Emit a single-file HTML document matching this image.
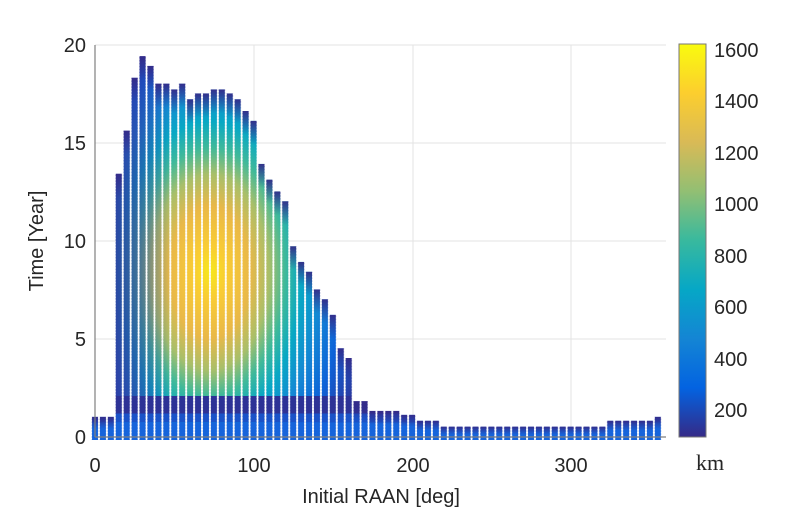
<!DOCTYPE html>
<html><head><meta charset="utf-8"><style>
html,body{margin:0;padding:0;background:#fff;width:809px;height:518px;overflow:hidden}
svg text{font-family:"Liberation Sans",Arial,sans-serif;fill:#262626}
</style></head><body>
<svg width="809" height="518" xmlns="http://www.w3.org/2000/svg">
<defs>
<linearGradient id="pg" x1="0" y1="1" x2="0" y2="0">
<stop offset="0" stop-color="#352a87"/><stop offset="0.125" stop-color="#0363e1"/>
<stop offset="0.25" stop-color="#1485d4"/><stop offset="0.375" stop-color="#06a7c6"/>
<stop offset="0.5" stop-color="#38b99e"/><stop offset="0.625" stop-color="#92bf73"/>
<stop offset="0.75" stop-color="#d9ba56"/><stop offset="0.875" stop-color="#fcce2e"/>
<stop offset="1" stop-color="#f9fb0e"/></linearGradient>
<radialGradient id="blob">
<stop offset="0" stop-color="#f6e81c"/>
<stop offset="0.1" stop-color="#f9cc34"/>
<stop offset="0.25" stop-color="#e9b848"/>
<stop offset="0.37" stop-color="#a8bf6a"/>
<stop offset="0.47" stop-color="#3fb99a"/>
<stop offset="0.57" stop-color="#08a8c4"/>
<stop offset="0.69" stop-color="#1488d4"/>
<stop offset="0.83" stop-color="#0d62d8"/>
<stop offset="1" stop-color="#2a3aa0"/>
</radialGradient>
<linearGradient id="lf" x1="0" y1="0" x2="1" y2="0">
<stop offset="0" stop-color="#33309a" stop-opacity="0.85"/>
<stop offset="0.5" stop-color="#33309a" stop-opacity="0.5"/>
<stop offset="1" stop-color="#33309a" stop-opacity="0"/>
</linearGradient>
<linearGradient id="td" x1="0" y1="0" x2="0" y2="1">
<stop offset="0" stop-color="#352a87" stop-opacity="0.95"/>
<stop offset="0.35" stop-color="#352a87" stop-opacity="0.6"/>
<stop offset="1" stop-color="#352a87" stop-opacity="0"/>
</linearGradient>
<pattern id="dp" patternUnits="userSpaceOnUse" x="91.036" y="435.53" width="7.9275" height="2.94">
<circle cx="3.964" cy="1.47" r="3.2" fill="#fff"/>
<circle cx="3.964" cy="-1.47" r="3.2" fill="#fff"/>
<circle cx="3.964" cy="4.41" r="3.2" fill="#fff"/>
</pattern>
<mask id="m" maskUnits="userSpaceOnUse" x="0" y="0" width="809" height="518">
<g fill="url(#dp)">
<rect x="91" y="416.8" width="24" height="23.2"/>
<rect x="114.8" y="173.7" width="8" height="266.3"/>
<rect x="122.7" y="130.6" width="8" height="309.4"/>
<rect x="130.6" y="77.7" width="8" height="362.3"/>
<rect x="138.6" y="56.1" width="8" height="383.9"/>
<rect x="146.5" y="65.9" width="8" height="374.1"/>
<rect x="154.4" y="83.6" width="16" height="356.4"/>
<rect x="170.3" y="89.4" width="8" height="350.6"/>
<rect x="178.2" y="83.6" width="8" height="356.4"/>
<rect x="186.1" y="99.2" width="8" height="340.8"/>
<rect x="194.1" y="93.4" width="16" height="346.6"/>
<rect x="209.9" y="89.4" width="16" height="350.6"/>
<rect x="225.8" y="93.4" width="8" height="346.6"/>
<rect x="233.7" y="99.2" width="8" height="340.8"/>
<rect x="241.6" y="111" width="8" height="329"/>
<rect x="249.6" y="120.8" width="8" height="319.2"/>
<rect x="257.5" y="163.9" width="8" height="276.1"/>
<rect x="265.4" y="179.6" width="8" height="260.4"/>
<rect x="273.3" y="191.4" width="8" height="248.6"/>
<rect x="281.3" y="201.2" width="8" height="238.8"/>
<rect x="289.2" y="246.2" width="8" height="193.8"/>
<rect x="297.1" y="261.9" width="8" height="178.1"/>
<rect x="305" y="271.7" width="8" height="168.3"/>
<rect x="313" y="289.4" width="8" height="150.6"/>
<rect x="320.9" y="299.2" width="8" height="140.8"/>
<rect x="328.8" y="314.8" width="8" height="125.2"/>
<rect x="336.8" y="348.2" width="8" height="91.8"/>
<rect x="344.7" y="358" width="8" height="82"/>
<rect x="352.6" y="401.1" width="16" height="38.9"/>
<rect x="368.5" y="410.9" width="32" height="29.1"/>
<rect x="400.2" y="414.8" width="16" height="25.2"/>
<rect x="416" y="420.7" width="24" height="19.3"/>
<rect x="439.8" y="426.6" width="166.6" height="13.4"/>
<rect x="606.3" y="420.7" width="48" height="19.3"/>
<rect x="653.9" y="416.8" width="8" height="23.2"/>
</g>
</mask>
</defs>
<g stroke="#e3e3e3" stroke-width="1">
<line x1="95" y1="45" x2="666" y2="45"/><line x1="95" y1="143" x2="666" y2="143"/>
<line x1="95" y1="241" x2="666" y2="241"/><line x1="95" y1="339" x2="666" y2="339"/>
<line x1="254" y1="45" x2="254" y2="437"/><line x1="413" y1="45" x2="413" y2="437"/>
<line x1="571" y1="45" x2="571" y2="437"/>
</g>
<g mask="url(#m)">
<rect x="85" y="40" width="590" height="405" fill="#2a3aa0"/>
<ellipse cx="210" cy="272" rx="160" ry="265" fill="url(#blob)"/>
<rect x="110" y="40" width="60" height="360" fill="url(#lf)"/>
<rect x="85" y="396" width="590" height="17.5" fill="#2d3296"/>
<rect x="85" y="413.5" width="590" height="8.8" fill="#1a52c8"/>
<rect x="85" y="422.3" width="590" height="20" fill="#1664db"/>
<g fill="url(#td)">
<rect x="91" y="416.8" width="24" height="12"/>
<rect x="114.8" y="173.7" width="8" height="24"/>
<rect x="122.7" y="130.6" width="8" height="24"/>
<rect x="130.6" y="77.7" width="8" height="24"/>
<rect x="138.6" y="56.1" width="8" height="24"/>
<rect x="146.5" y="65.9" width="8" height="24"/>
<rect x="154.4" y="83.6" width="16" height="24"/>
<rect x="170.3" y="89.4" width="8" height="24"/>
<rect x="178.2" y="83.6" width="8" height="24"/>
<rect x="186.1" y="99.2" width="8" height="24"/>
<rect x="194.1" y="93.4" width="16" height="24"/>
<rect x="209.9" y="89.4" width="16" height="24"/>
<rect x="225.8" y="93.4" width="8" height="24"/>
<rect x="233.7" y="99.2" width="8" height="24"/>
<rect x="241.6" y="111" width="8" height="24"/>
<rect x="249.6" y="120.8" width="8" height="24"/>
<rect x="257.5" y="163.9" width="8" height="24"/>
<rect x="265.4" y="179.6" width="8" height="24"/>
<rect x="273.3" y="191.4" width="8" height="24"/>
<rect x="281.3" y="201.2" width="8" height="24"/>
<rect x="289.2" y="246.2" width="8" height="24"/>
<rect x="297.1" y="261.9" width="8" height="24"/>
<rect x="305" y="271.7" width="8" height="24"/>
<rect x="313" y="289.4" width="8" height="24"/>
<rect x="320.9" y="299.2" width="8" height="24"/>
<rect x="328.8" y="314.8" width="8" height="24"/>
<rect x="336.8" y="348.2" width="8" height="24"/>
<rect x="344.7" y="358" width="8" height="24"/>
<rect x="352.6" y="401.1" width="16" height="18"/>
<rect x="368.5" y="410.9" width="32" height="14"/>
<rect x="400.2" y="414.8" width="16" height="12"/>
<rect x="416" y="420.7" width="24" height="10"/>
<rect x="439.8" y="426.6" width="166.6" height="8"/>
<rect x="606.3" y="420.7" width="48" height="10"/>
<rect x="653.9" y="416.8" width="8" height="12"/>
</g>
</g>
<g stroke="#808080" stroke-width="1.2">
<line x1="95" y1="45" x2="95" y2="437"/><line x1="95" y1="437" x2="666" y2="437"/>
</g>
<g font-size="20" text-anchor="end">
<text x="86" y="52">20</text><text x="86" y="150">15</text><text x="86" y="248">10</text>
<text x="86" y="346">5</text><text x="86" y="444">0</text>
</g>
<g font-size="20" text-anchor="middle">
<text x="95" y="472">0</text><text x="254" y="472">100</text><text x="413" y="472">200</text><text x="571" y="472">300</text>
<text x="381" y="503">Initial RAAN [deg]</text>
<text transform="translate(43,241) rotate(-90)">Time [Year]</text>
</g>
<rect x="679" y="44" width="27" height="393" fill="url(#pg)" stroke="#777" stroke-width="1"/>
<g font-size="20">
<text x="714" y="57">1600</text><text x="714" y="108">1400</text><text x="714" y="160">1200</text>
<text x="714" y="211">1000</text><text x="714" y="263">800</text><text x="714" y="314">600</text>
<text x="714" y="366">400</text><text x="714" y="417">200</text>
</g>
<text x="696" y="470" font-size="22" style="font-family:'Liberation Serif',serif">km</text>
</svg>
</body></html>
